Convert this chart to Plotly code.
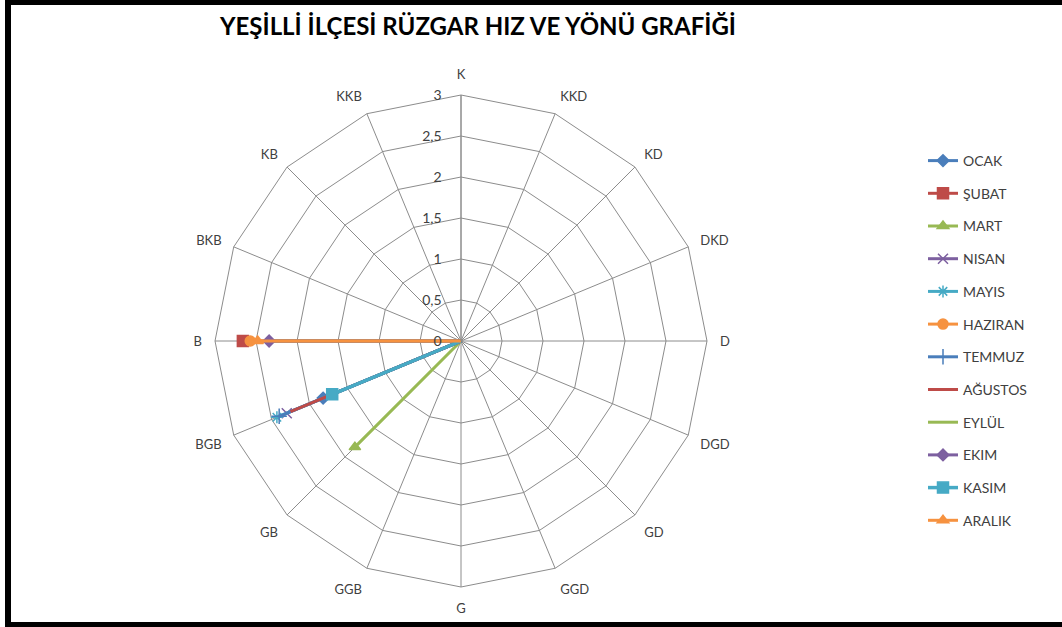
import plotly.graph_objects as go

W, H = 1062, 627

directions = ["K", "KKD", "KD", "DKD", "D", "DGD", "GD", "GGD",
              "G", "GGB", "GB", "BGB", "B", "BKB", "KB", "KKB"]

months = ["OCAK", "ŞUBAT", "MART", "NISAN", "MAYIS", "HAZIRAN",
          "TEMMUZ", "AĞUSTOS", "EYLÜL", "EKIM", "KASIM", "ARALIK"]

#           K  KKD KD DKD D DGD GD GGD G GGB  GB    BGB   B     BKB KB KKB
ocak    = [0, 0, 0, 0, 0, 0, 0, 0, 0, 0, 0,    1.82, 0,    0, 0, 0]
subat   = [0, 0, 0, 0, 0, 0, 0, 0, 0, 0, 0,    0,    2.66, 0, 0, 0]
mart    = [0, 0, 0, 0, 0, 0, 0, 0, 0, 0, 1.83, 0,    0,    0, 0, 0]
nisan   = [0, 0, 0, 0, 0, 0, 0, 0, 0, 0, 0,    2.30, 0,    0, 0, 0]
mayis   = [0, 0, 0, 0, 0, 0, 0, 0, 0, 0, 0,    2.43, 0,    0, 0, 0]
haziran = [0, 0, 0, 0, 0, 0, 0, 0, 0, 0, 0,    0,    2.57, 0, 0, 0]
temmuz  = [0, 0, 0, 0, 0, 0, 0, 0, 0, 0, 0,    2.40, 0,    0, 0, 0]
agustos = [0, 0, 0, 0, 0, 0, 0, 0, 0, 0, 0,    2.25, 0,    0, 0, 0]
eylul   = [0, 0, 0, 0, 0, 0, 0, 0, 0, 0, 0,    0,    2.30, 0, 0, 0]
ekim    = [0, 0, 0, 0, 0, 0, 0, 0, 0, 0, 0,    0,    2.34, 0, 0, 0]
kasim   = [0, 0, 0, 0, 0, 0, 0, 0, 0, 0, 0,    1.70, 0,    0, 0, 0]
aralik  = [0, 0, 0, 0, 0, 0, 0, 0, 0, 0, 0,    0,    2.48, 0, 0, 0]

series = [ocak, subat, mart, nisan, mayis, haziran,
          temmuz, agustos, eylul, ekim, kasim, aralik]

radial_ticks = [0, 0.5, 1, 1.5, 2, 2.5, 3]
radial_ticklabels = ["0", "0,5", "1", "1,5", "2", "2,5", "3"]

colors = ["#4A7EBB", "#BE4B48", "#98B954", "#7D60A0", "#46AAC5", "#F69240",
          "#4A7EBB", "#BE4B48", "#98B954", "#7D60A0", "#46AAC5", "#F69240"]
symbols = ["diamond", "square", "triangle-up", "x-thin", "asterisk", "circle",
           "cross-thin", None, None, "diamond", "square", "triangle-up"]
sizes = [9, 11, 10, 10, 10, 10, 11, 0, 0, 9, 11, 10]

fig = go.Figure()
for name, vals, col, sym, sz in zip(months, series, colors, symbols, sizes):
    r = list(vals) + [vals[0]]
    th = directions + [directions[0]]
    if sym is None:
        mode = "lines"
        marker = dict()
    else:
        mode = "lines+markers"
        marker = dict(symbol=sym, size=sz, color=col,
                      line=dict(color=col, width=1.5))
    fig.add_trace(go.Scatterpolar(
        r=r, theta=th, name=name, mode=mode,
        line=dict(color=col, width=3.5 if name == "KASIM" else 3),
        marker=marker, legendgroup=name, cliponaxis=False,
    ))

cx, cy, R = 461, 341, 246
fig.update_layout(
    width=W, height=H,
    margin=dict(l=0, r=0, t=0, b=0),
    paper_bgcolor="white",
    plot_bgcolor="white",
    separators=", ",
    font=dict(family="Lato, Open Sans, sans-serif", size=13, color="#404040"),
    title=dict(text="<b>YEŞİLLİ İLÇESİ RÜZGAR HIZ VE YÖNÜ GRAFİĞİ</b>",
               x=478 / W, xanchor="center", y=1 - 27 / H, yanchor="middle",
               font=dict(family="Lato, sans-serif", size=24, color="black")),
    polar=dict(
        domain=dict(x=[(cx - R) / W, (cx + R) / W],
                    y=[(H - cy - R) / H, (H - cy + R) / H]),
        bgcolor="white",
        gridshape="linear",
        angularaxis=dict(
            rotation=90, direction="clockwise", type="category",
            categoryorder="array", categoryarray=directions,
            showgrid=True, gridcolor="#8C8C8C", gridwidth=1,
            showline=True, linecolor="#8C8C8C", linewidth=1,
            ticks="outside", ticklen=10, tickcolor="rgba(0,0,0,0)",
            tickfont=dict(size=13, color="#404040"),
        ),
        radialaxis=dict(
            range=[0, 3], tickvals=radial_ticks, ticktext=radial_ticklabels,
            angle=90, tickangle=90, side="counterclockwise",
            showgrid=True, gridcolor="#8C8C8C", gridwidth=1,
            showline=True, linecolor="#8C8C8C", linewidth=1,
            ticks="outside", ticklen=14, tickcolor="rgba(0,0,0,0)",
            tickfont=dict(size=14, color="#404040"),
        ),
    ),
    showlegend=True,
    legend=dict(
        x=923 / W, xanchor="left", y=1 - 145 / H, yanchor="top",
        font=dict(family="Lato, sans-serif", size=14, color="#404040"),
        tracegroupgap=11.5, itemwidth=30, bgcolor="rgba(0,0,0,0)",
    ),
    shapes=[
        dict(type="rect", xref="paper", yref="paper", x0=5 / W, x1=11 / W,
             y0=0, y1=1, fillcolor="black", line=dict(width=0)),
        dict(type="rect", xref="paper", yref="paper", x0=5 / W, x1=1,
             y0=1 - 5 / H, y1=1, fillcolor="black", line=dict(width=0)),
        dict(type="rect", xref="paper", yref="paper", x0=5 / W, x1=1,
             y0=0, y1=5 / H, fillcolor="black", line=dict(width=0)),
    ],
)

fig.write_html("out.html",
               config={"displayModeBar": False},
               post_script="document.body.style.margin='0';"
                           "document.body.style.overflow='hidden';")
